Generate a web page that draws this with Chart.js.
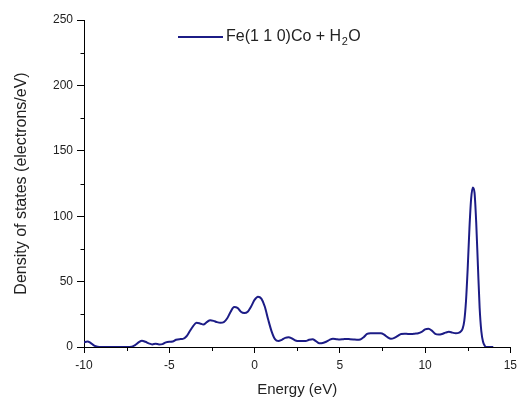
<!DOCTYPE html>
<html>
<head>
<meta charset="utf-8">
<script src="https://cdn.jsdelivr.net/npm/chart.js@4/dist/chart.umd.min.js"></script>
<style>
  html, body { margin: 0; padding: 0; background: #ffffff; }
  #wrap { width: 522px; height: 399px; }
</style>
</head>
<body>
<div id="wrap"><canvas id="c" width="522" height="399"></canvas></div>
<script>
// ---- Data ----
const seriesLabel = "Fe(1 1 0)Co + H₂O";
const energy = [
  -10.0, -9.8, -9.6, -9.4, -9.2, -9.0, -8.0, -7.5, -7.2, -7.0,
  -6.8, -6.6, -6.4, -6.2, -6.0, -5.8, -5.6, -5.4, -5.2, -5.0,
  -4.8, -4.6, -4.4, -4.2, -4.0, -3.8, -3.6, -3.4, -3.2, -3.0,
  -2.8, -2.6, -2.4, -2.2, -2.0, -1.8, -1.6, -1.4, -1.2, -1.0,
  -0.8, -0.6, -0.4, -0.2, 0.0, 0.2, 0.4, 0.6, 0.8, 1.0,
  1.2, 1.4, 1.6, 1.8, 2.0, 2.2, 2.4, 2.6, 2.8, 3.0,
  3.2, 3.4, 3.6, 3.8, 4.0, 4.2, 4.4, 4.6, 4.8, 5.0,
  5.2, 5.4, 5.6, 5.8, 6.0, 6.2, 6.4, 6.6, 6.8, 7.0,
  7.2, 7.4, 7.6, 7.8, 8.0, 8.2, 8.4, 8.6, 8.8, 9.0,
  9.2, 9.4, 9.6, 9.8, 10.0, 10.2, 10.4, 10.6, 10.8, 11.0,
  11.2, 11.4, 11.6, 11.8, 12.0, 12.1, 12.2, 12.3, 12.4, 12.5,
  12.6, 12.7, 12.8, 12.9, 13.0, 13.1, 13.2, 13.3, 13.4, 13.5,
  13.6, 14.0
];
const dos = [
  3.5, 4.2, 3.0, 1.0, 0.2, 0, 0, 0, 0.3, 1.5,
  3.5, 4.8, 4.0, 2.8, 2.0, 2.5, 2.0, 2.2, 3.5, 4.0,
  4.2, 5.5, 6.0, 6.2, 8.0, 12.0, 16.0, 18.5, 18.0, 17.2,
  19.0, 20.5, 20.0, 19.0, 18.5, 19.0, 22.0, 27.0, 30.5, 30.0,
  27.0, 26.0, 27.0, 31.0, 36.0, 38.5, 37.0, 31.0, 21.0, 12.0,
  6.0, 4.5, 5.5, 7.0, 7.5, 6.5, 5.0, 4.5, 4.5, 4.5,
  5.5, 6.0, 4.5, 2.8, 3.0, 4.0, 5.5, 6.3, 6.0, 5.8,
  6.0, 6.2, 6.0, 5.8, 5.6, 5.8, 7.5, 10.0, 10.5, 10.5,
  10.5, 10.5, 9.5, 7.5, 6.3, 7.0, 8.5, 10.0, 10.2, 10.0,
  10.0, 10.2, 10.5, 11.5, 13.5, 14.0, 12.5, 10.0, 9.5, 10.0,
  11.0, 11.6, 11.0, 10.5, 11.0, 12.0, 14.0, 20.0, 35.0, 60.0,
  90.0, 113.0, 122.0, 118.0, 95.0, 62.0, 30.0, 12.0, 4.0, 1.0,
  0, 0
];
const xTicks = [-10, -5, 0, 5, 10, 15];
const xMinorTicks = [-7.5, -2.5, 2.5, 7.5, 12.5];
const yTicks = [0, 50, 100, 150, 200, 250];
const yMinorTicks = [25, 75, 125, 175, 225];

const FONT = '"Liberation Sans", Arial, sans-serif';
const LINE_COLOR = '#1c1c86';
const TEXT_COLOR = '#222222';

const points = energy.map((e, i) => ({ x: e, y: dos[i] }));

const minorTicksPlugin = {
  id: 'minorTicks',
  afterDraw(chart) {
    const ctx = chart.ctx;
    const xs = chart.scales.x, ys = chart.scales.y;
    ctx.save();
    ctx.strokeStyle = '#000';
    ctx.lineWidth = 1;
    ctx.beginPath();
    yMinorTicks.forEach(v => {
      const py = Math.round(ys.getPixelForValue(v)) + 0.5;
      ctx.moveTo(ys.right - 3.5, py);
      ctx.lineTo(ys.right, py);
    });
    xMinorTicks.forEach(v => {
      const px = Math.round(xs.getPixelForValue(v)) + 0.5;
      ctx.moveTo(px, xs.top);
      ctx.lineTo(px, xs.top + 4);
    });
    ctx.stroke();
    ctx.restore();
  }
};

const legendPlugin = {
  id: 'customLegend',
  afterDraw(chart) {
    const ctx = chart.ctx;
    ctx.save();
    const y = 37;
    ctx.strokeStyle = LINE_COLOR;
    ctx.lineWidth = 2;
    ctx.beginPath();
    ctx.moveTo(178, y);
    ctx.lineTo(223, y);
    ctx.stroke();
    ctx.fillStyle = TEXT_COLOR;
    ctx.textBaseline = 'middle';
    ctx.textAlign = 'left';
    ctx.font = '16px ' + FONT;
    let x = 226;
    const parts = seriesLabel.split('₂');
    ctx.fillText(parts[0], x, y);
    x += ctx.measureText(parts[0]).width;
    ctx.font = '11px ' + FONT;
    ctx.fillText('2', x + 0.5, y + 5);
    x += ctx.measureText('2').width + 1;
    ctx.font = '16px ' + FONT;
    ctx.fillText(parts[1] || '', x, y);
    ctx.restore();
  }
};

new Chart(document.getElementById('c'), {
  type: 'line',
  data: {
    datasets: [{
      label: seriesLabel,
      data: points,
      borderColor: LINE_COLOR,
      backgroundColor: LINE_COLOR,
      borderWidth: 2,
      pointRadius: 0,
      fill: false,
      tension: 0.4,
      cubicInterpolationMode: 'monotone'
    }]
  },
  options: {
    responsive: false,
    animation: false,
    layout: { padding: { top: 20, right: 9, left: 0, bottom: 0 } },
    plugins: {
      legend: { display: false },
      tooltip: { enabled: false }
    },
    scales: {
      x: {
        type: 'linear',
        min: -10, max: 15,
        afterFit(scale) { scale.height = 52; },
        afterBuildTicks(scale) { scale.ticks = xTicks.map(v => ({ value: v })); },
        ticks: {
          color: TEXT_COLOR,
          font: { family: FONT, size: 12 },
          padding: 5,
          maxRotation: 0,
          autoSkip: false
        },
        grid: { drawOnChartArea: false, drawTicks: true, tickLength: 6, color: '#000', lineWidth: 1 },
        border: { display: true, color: '#000', width: 1 },
        title: {
          display: true,
          text: 'Energy (eV)',
          color: TEXT_COLOR,
          font: { family: FONT, size: 15 },
          padding: { top: 0, bottom: 0 }
        }
      },
      y: {
        min: 0, max: 250,
        afterFit(scale) { scale.width = 84; },
        afterBuildTicks(scale) { scale.ticks = yTicks.map(v => ({ value: v })); },
        ticks: {
          color: TEXT_COLOR,
          font: { family: FONT, size: 12 },
          padding: 4,
          autoSkip: false
        },
        grid: { drawOnChartArea: false, drawTicks: true, tickLength: 7, color: '#000', lineWidth: 1 },
        border: { display: true, color: '#000', width: 1 },
        title: {
          display: true,
          text: 'Density of states (electrons/eV)',
          color: TEXT_COLOR,
          font: { family: FONT, size: 16 },
          padding: { top: 12, bottom: 0 }
        }
      }
    }
  },
  plugins: [minorTicksPlugin, legendPlugin]
});
</script>
</body>
</html>
